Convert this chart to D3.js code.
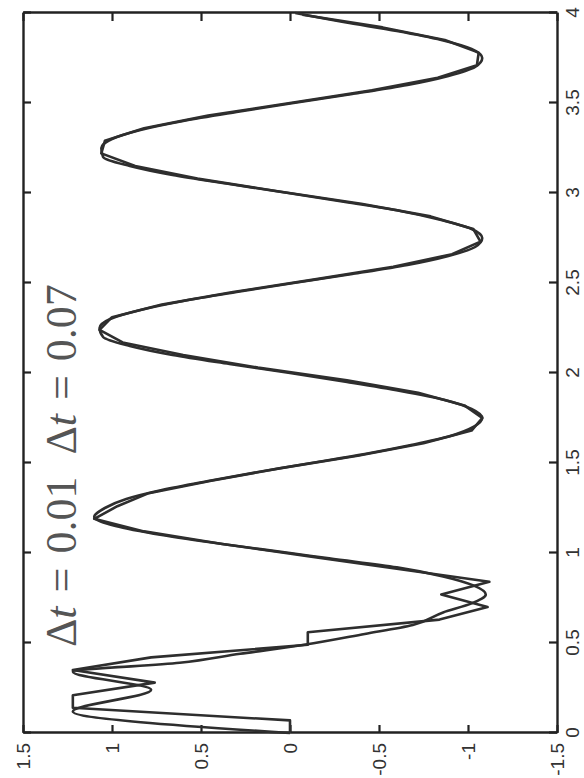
<!DOCTYPE html>
<html>
<head>
<meta charset="utf-8">
<script src="https://cdn.jsdelivr.net/npm/d3@7"></script>
<style>
body { margin: 0; background: #fff; }
</style>
</head>
<body>
<div id="chart"></div>
<script>
// fine step solution
var tFine = [0, 0.12, 0.24, 0.34, 0.39, 0.44, 0.49, 0.55, 0.60, 0.67, 0.72, 0.77, 0.82, 0.87, 0.92, 0.97,
    1.00, 1.05, 1.10, 1.15, 1.20, 1.25, 1.30, 1.35, 1.40, 1.45, 1.50, 1.55, 1.60, 1.65, 1.70, 1.75, 1.80, 1.85, 1.90, 1.95,
    2.00, 2.05, 2.10, 2.15, 2.20, 2.25, 2.30, 2.35, 2.40, 2.45, 2.50, 2.55, 2.60, 2.65, 2.70, 2.75, 2.80, 2.85, 2.90, 2.95,
    3.00, 3.05, 3.10, 3.15, 3.20, 3.25, 3.30, 3.35, 3.40, 3.45, 3.50, 3.55, 3.60, 3.65, 3.70, 3.75, 3.80, 3.85, 3.90, 3.95, 4.00];
var yFine = [0, 1.22, 0.78, 1.22, 0.62, 0.28, -0.08, -0.42, -0.69, -0.86, -1.02, -1.10, -1.03, -0.86, -0.60, -0.22,
    0.00, 0.38, 0.72, 0.98, 1.10, 1.04, 0.92, 0.72, 0.46, 0.18, -0.12, -0.42, -0.68, -0.90, -1.03, -1.08, -1.02, -0.87, -0.62, -0.32,
    0.00, 0.34, 0.66, 0.90, 1.05, 1.07, 1.01, 0.84, 0.60, 0.30, -0.02, -0.35, -0.66, -0.89, -1.04, -1.08, -1.02, -0.85, -0.62, -0.31,
    0.01, 0.34, 0.66, 0.90, 1.05, 1.06, 1.00, 0.84, 0.60, 0.30, -0.02, -0.35, -0.66, -0.89, -1.04, -1.08, -1.02, -0.85, -0.60, -0.30, -0.03];

// coarse step solution (dt = 0.07)
var tCoarse = [0, 0.07, 0.14, 0.21, 0.28, 0.35, 0.42, 0.49, 0.56, 0.63, 0.70, 0.77, 0.84,
    0.91, 0.98, 1.05, 1.12, 1.19, 1.26, 1.33, 1.40, 1.47, 1.54, 1.61, 1.68, 1.75, 1.82, 1.89, 1.96,
    2.03, 2.10, 2.17, 2.24, 2.31, 2.38, 2.45, 2.52, 2.59, 2.66, 2.73, 2.80, 2.87, 2.94,
    3.01, 3.08, 3.15, 3.22, 3.29, 3.36, 3.43, 3.50, 3.57, 3.64, 3.71, 3.78, 3.85, 3.92, 3.99];
var yCoarse = [0, 0, 1.22, 1.22, 0.76, 1.22, 0.78, -0.10, -0.10, -0.84, -1.11, -0.85, -1.12,
    -0.62, -0.12, 0.38, 0.82, 1.10, 0.97, 0.80, 0.45, 0.06, -0.38, -0.75, -1.02, -1.08, -0.98, -0.72, -0.32,
    0.18, 0.60, 0.94, 1.07, 1.00, 0.72, 0.32, -0.14, -0.58, -0.91, -1.07, -1.03, -0.79, -0.40,
    0.07, 0.52, 0.87, 1.06, 1.04, 0.82, 0.46, 0, -0.46, -0.83, -1.05, -1.06, -0.87, -0.52, -0.07];

var tTicks = [0, 0.5, 1, 1.5, 2, 2.5, 3, 3.5, 4];
var yTicks = [-1.5, -1, -0.5, 0, 0.5, 1, 1.5];
var stepLabels = ["0.01", "0.07"];

var width = 584, height = 778;
// the plot is drawn lying on its side: time runs up the page
var plotW = 720, plotH = 534;

var svg = d3.select("#chart").append("svg")
    .attr("width", width)
    .attr("height", height);

var g = svg.append("g")
    .attr("transform", "translate(23,733) rotate(-90)");

var x = d3.scaleLinear().domain([0, 4]).range([0, plotW]);
var y = d3.scaleLinear().domain([-1.5, 1.5]).range([plotH, 0]);

var fmt = function (d) { return String(d); };

function styleAxis(sel) {
    sel.selectAll("path").attr("stroke", "#222").attr("stroke-width", 2.4);
    sel.selectAll("line").attr("stroke", "#222").attr("stroke-width", 2.2);
    sel.selectAll("text")
        .attr("fill", "#333")
        .style("font-family", "'Liberation Sans', Arial, sans-serif")
        .style("font-size", "19px");
}

g.append("g").attr("transform", "translate(0," + plotH + ")")
    .call(d3.axisBottom(x).tickValues(tTicks).tickFormat(fmt).tickSizeInner(-8).tickSizeOuter(0).tickPadding(9))
    .call(styleAxis);
g.append("g")
    .call(d3.axisTop(x).tickValues(tTicks).tickFormat("").tickSizeInner(-8).tickSizeOuter(0))
    .call(styleAxis);
g.append("g")
    .call(d3.axisLeft(y).tickValues(yTicks).tickFormat(fmt).tickSizeInner(-8).tickSizeOuter(0).tickPadding(10))
    .call(styleAxis);
g.append("g").attr("transform", "translate(" + plotW + ",0)")
    .call(d3.axisRight(y).tickValues(yTicks).tickFormat("").tickSizeInner(-8).tickSizeOuter(0))
    .call(styleAxis);

var fineLine = d3.line()
    .x(function (d) { return x(d[0]); })
    .y(function (d) { return y(d[1]); })
    .curve(d3.curveMonotoneX);
var coarseLine = d3.line()
    .x(function (d) { return x(d[0]); })
    .y(function (d) { return y(d[1]); });

g.append("path")
    .datum(d3.zip(tFine, yFine))
    .attr("d", fineLine)
    .attr("fill", "none")
    .attr("stroke", "#2e2e2e")
    .attr("stroke-width", 2.6);
g.append("path")
    .datum(d3.zip(tCoarse, yCoarse))
    .attr("d", coarseLine)
    .attr("fill", "none")
    .attr("stroke", "#2e2e2e")
    .attr("stroke-width", 2.6)
    .attr("stroke-linejoin", "round");

// label text, LaTeX style
var label = g.append("text")
    .attr("x", x(0.478))
    .attr("y", y(1.2))
    .attr("fill", "#555")
    .style("font-family", "'Liberation Serif', 'Times New Roman', serif")
    .style("font-size", "44px");
stepLabels.forEach(function (s, i) {
    label.append("tspan").attr("dx", i ? 22 : 0).text("\u0394");
    label.append("tspan").style("font-style", "italic").text("t");
    label.append("tspan").attr("dx", 14).text("=");
    label.append("tspan").attr("dx", 14).text(s);
});
</script>
</body>
</html>
